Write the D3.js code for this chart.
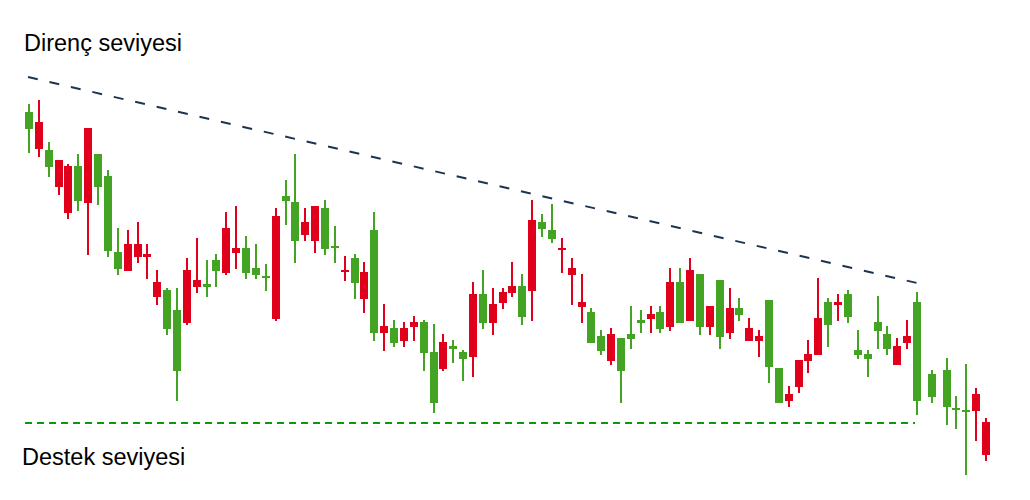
<!DOCTYPE html>
<html>
<head>
<meta charset="utf-8">
<script src="https://cdn.jsdelivr.net/npm/d3@7"></script>
<style>
  body { margin: 0; background: #fff; }
  text { font-family: "Liberation Sans", Arial, sans-serif; }
</style>
</head>
<body>
<div id="chart"></div>
<script>
// day index of each candle (the last few are spaced unevenly in the picture)
var days = d3.range(0, 91).concat([91.5, 93, 94, 95, 96, 97]);

var open = [37.1, 37.8, 33.3, 34.0, 33.4, 29.9, 37.2, 31.3, 24.9, 23.1,
    25.6, 25.6, 24.6, 21.8, 17.1, 12.9, 23.0, 22.0, 21.3, 22.9,
    27.2, 25.2, 22.7, 22.5, 22.3, 28.4, 29.9, 25.9, 27.8, 29.4,
    25.1, 25.3, 23.0, 21.7, 22.8, 16.7, 17.4, 15.7, 17.2, 17.8,
    14.7, 9.7, 15.8, 15.1, 14.1, 20.6, 17.7, 19.6, 20.8, 21.4,
    18.3, 28.0, 27.1, 26.1, 25.2, 23.2, 19.8, 15.7, 14.9, 16.6,
    12.9, 16.1, 17.7, 18.6, 17.1, 21.8, 17.7, 23.0, 17.3, 19.4,
    16.3, 19.2, 18.5, 17.2, 16.4, 13.3, 9.7, 10.6, 14.0, 14.6,
    18.2, 17.5, 19.8, 18.3, 14.5, 14.1, 16.9, 15.1, 15.4, 16.4,
    9.9, 10.3, 9.3, 9.1, 8.9, 10.6, 7.8];
var high = [39.6, 40.0, 35.8, 34.0, 33.6, 34.6, 37.2, 34.6, 33.0, 27.2,
    27.0, 27.8, 25.6, 23.0, 21.2, 21.2, 24.2, 26.2, 24.0, 24.6,
    28.8, 29.4, 26.4, 25.6, 23.6, 29.2, 32.0, 34.6, 29.2, 29.4,
    30.0, 27.4, 24.4, 24.6, 23.8, 28.8, 19.6, 18.0, 17.8, 18.4,
    18.0, 17.6, 16.6, 16.0, 15.0, 21.8, 23.0, 21.2, 21.2, 23.8,
    22.6, 30.0, 28.6, 29.6, 26.2, 24.2, 22.6, 19.2, 17.0, 17.2,
    16.2, 19.4, 19.0, 19.4, 19.4, 23.2, 23.2, 24.2, 22.6, 19.4,
    22.0, 21.2, 20.2, 18.2, 17.0, 20.0, 13.2, 11.4, 14.0, 16.0,
    22.2, 20.2, 20.6, 21.0, 17.0, 15.0, 20.4, 17.4, 16.2, 18.0,
    20.8, 13.0, 14.2, 10.4, 13.6, 11.2, 8.2];
var low = [34.7, 34.3, 32.3, 30.5, 28.1, 28.9, 24.5, 29.5, 24.3, 22.5,
    22.9, 23.7, 22.1, 19.5, 16.5, 9.9, 17.5, 20.7, 20.3, 21.3,
    22.5, 23.1, 22.1, 22.1, 20.9, 17.9, 27.5, 23.7, 25.9, 24.7,
    24.5, 23.7, 21.9, 20.1, 18.7, 15.9, 14.9, 15.3, 15.3, 15.9,
    12.9, 8.7, 12.9, 13.7, 11.9, 12.3, 17.1, 16.5, 19.1, 20.3,
    17.5, 17.9, 26.3, 25.7, 22.7, 19.5, 17.7, 15.7, 14.5, 13.5,
    9.7, 15.1, 16.7, 16.7, 16.7, 16.9, 17.7, 17.9, 16.5, 16.5,
    15.1, 16.1, 17.9, 15.9, 14.3, 11.7, 9.7, 9.3, 10.7, 12.7,
    14.5, 15.3, 17.9, 17.7, 14.1, 12.3, 15.1, 14.5, 13.5, 15.1,
    8.5, 9.7, 7.5, 7.1, 2.5, 5.9, 3.9];
var close = [38.8, 35.1, 35.0, 31.3, 28.7, 33.4, 29.7, 34.6, 32.4, 24.8,
    22.9, 24.3, 24.3, 20.3, 21.0, 19.0, 17.7, 21.3, 21.6, 24.0,
    22.7, 24.7, 25.2, 23.2, 22.4, 18.1, 30.4, 29.8, 26.5, 25.9,
    29.2, 25.4, 22.9, 24.2, 20.1, 27.0, 16.7, 17.2, 15.9, 17.3,
    17.8, 14.8, 13.1, 15.4, 14.8, 14.3, 20.6, 17.7, 19.7, 20.7,
    21.4, 20.9, 27.8, 27.0, 25.1, 22.5, 19.3, 18.8, 16.4, 13.9,
    16.2, 16.6, 18.0, 18.1, 18.8, 17.3, 21.8, 17.9, 22.6, 17.3,
    22.0, 16.7, 19.2, 15.9, 15.9, 20.0, 13.2, 9.9, 11.3, 13.9,
    14.5, 19.8, 19.5, 20.6, 15.0, 14.6, 17.8, 16.6, 13.5, 15.7,
    19.8, 12.6, 13.0, 9.2, 9.0, 8.9, 4.5];

// trend lines: [start, end] as [day, price]
var resistance = [[-0.1, 42.3], [90, 21.7]];
var support = [[-0.4, 7.7], [89.8, 7.7]];

var labels = ["Direnç seviyesi", "Destek seviyesi"];

var width = 1030, height = 500;
var upColor = "#43a322", downColor = "#e0001b";

var candles = days.map(function (d, i) {
    return { day: d, open: open[i], high: high[i], low: low[i], close: close[i] };
});

var svg = d3.select("#chart").append("svg")
    .attr("width", width)
    .attr("height", height);

var x = d3.scaleLinear().domain([0, 90]).range([29, 917]);
var y = d3.scaleLinear().domain([0, 50]).range([500, 0]);

var bodyW = 8, wickW = 2;

var g = svg.append("g");

var candle = g.selectAll("g.candle")
    .data(candles)
    .enter().append("g")
    .attr("class", "candle")
    .attr("fill", function (d) { return d.close >= d.open ? upColor : downColor; });

candle.append("rect")
    .attr("x", function (d) { return Math.round(x(d.day)) - wickW / 2; })
    .attr("width", wickW)
    .attr("y", function (d) { return y(d.high); })
    .attr("height", function (d) { return y(d.low) - y(d.high); });

candle.append("rect")
    .attr("x", function (d) { return Math.round(x(d.day)) - bodyW / 2; })
    .attr("width", bodyW)
    .attr("y", function (d) { return y(Math.max(d.open, d.close)); })
    .attr("height", function (d) {
        return Math.max(2, Math.abs(y(d.open) - y(d.close)));
    });

var line = d3.line()
    .x(function (d) { return x(d[0]); })
    .y(function (d) { return y(d[1]); });

svg.append("path")
    .datum(resistance)
    .attr("d", line)
    .attr("fill", "none")
    .attr("stroke", "#1d3450")
    .attr("stroke-width", 2)
    .attr("stroke-dasharray", "10,12");

svg.append("path")
    .datum(support)
    .attr("d", line)
    .attr("fill", "none")
    .attr("stroke", "#0a990a")
    .attr("stroke-width", 2)
    .attr("stroke-dasharray", "7,5");

svg.append("text")
    .attr("x", 24)
    .attr("y", 51)
    .attr("font-size", 23.5)
    .attr("fill", "#000")
    .text(labels[0]);

svg.append("text")
    .attr("x", 22)
    .attr("y", 465)
    .attr("font-size", 23.5)
    .attr("fill", "#000")
    .text(labels[1]);
</script>
</body>
</html>
